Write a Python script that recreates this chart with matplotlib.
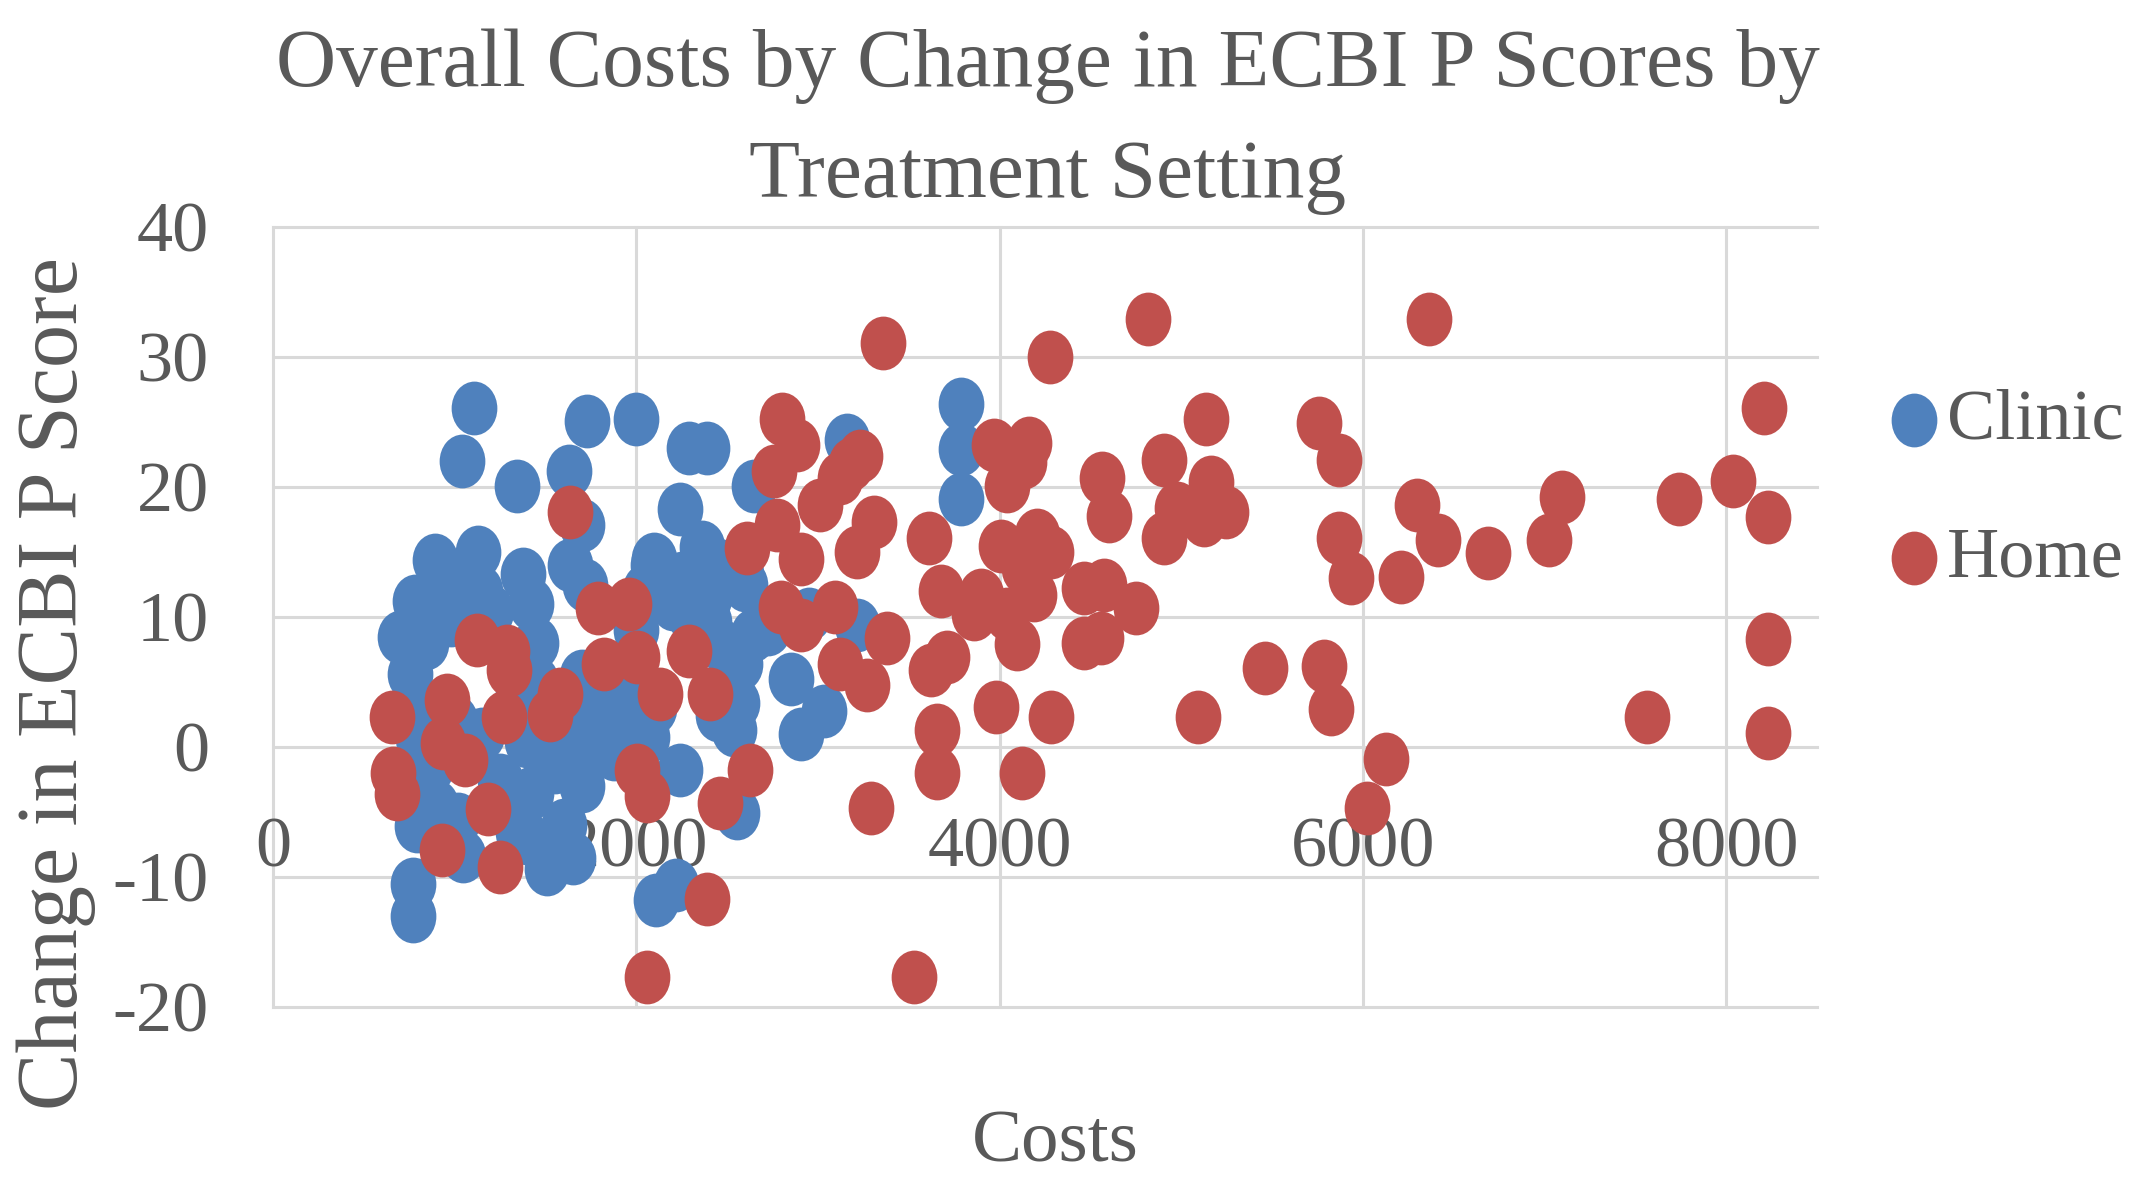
import numpy as np
import matplotlib
matplotlib.use("Agg")
import matplotlib.pyplot as plt
from matplotlib.path import Path

# ---------------- data ----------------
clinic_x = [1104, 1728, 1998, 1039, 1343, 1627, 1701, 1636, 893, 1131, 1379, 1140, 782,
            2094, 2243, 3785, 3785, 3785, 3161, 2290, 2390, 2647, 2363, 2575, 2122, 2046,
            2401, 2643, 2726, 2952, 3216, 2573, 2854, 3032, 2904, 2536, 2552, 2243, 2555,
            2110, 2220, 2059, 773, 773, 1508, 1048, 791, 755, 791, 800,
            840, 980, 1200, 1420, 1450, 1720, 820, 870, 900, 1020, 1350, 1420, 1400, 1350,
            1650, 1700, 1750, 1900, 1880, 1600, 1000, 1150, 1500, 1800, 1300, 1400, 1650,
            1450, 1700, 1000, 900, 2000, 2100, 1950, 2300, 2450, 2450, 2100, 2250, 2450,
            2600, 2200, 2400, 1250, 1550, 700]
clinic_y = [26.1, 25.1, 25.2, 22.0, 20.1, 21.2, 17.1, 14.0, 14.4, 15.0, 13.3, 12.0, 11.2,
            14.0, 18.3, 26.4, 22.9, 19.1, 23.6, 23.0, 23.0, 20.1, 15.4, 13.3, 13.3, 12.1,
            9.6, 8.6, 9.1, 10.2, 9.4, 6.4, 5.2, 2.8, 1.0, 1.3, 3.4, -1.8, -5.1,
            -11.8, -10.6, 0.8, -10.5, -13.0, -9.4, -8.4, -6.1, 5.6, 10.7, 0.7,
            8.0, 9.8, 10.5, 11.0, 8.0, 12.5, 3.0, -1.5, -4.5, -5.5, -6.5, -3.5, 0.5, 4.0,
            0.0, -3.0, 3.0, 2.5, -0.5, -6.0, 2.0, 1.0, 0.5, 0.5, -5.0, -7.0, -8.5,
            5.0, 5.5, 12.5, 12.0, 9.0, 3.0, 4.0, 10.0, 8.0, 2.5, 14.5, 13.0, 14.0,
            12.5, 11.0, 11.5, -2.5, -1.5, 8.5]

home_x = [3357, 4818, 6362, 4276, 8208, 2803, 5139, 5760, 4906, 5870, 4562, 4603, 5163,
          5245, 4979, 4906, 5126, 5870, 5934, 6210, 6296, 6412, 4281, 4463, 4573, 4750,
          4463, 4557, 4281, 4122, 5095, 5460, 5784, 5824, 6127, 6022, 7095, 7027, 6687,
          7738, 8037, 8230, 8230, 7565, 8230,
          2885, 2757, 3234, 3124, 3014, 3180, 3969, 4162, 4041, 4133, 3611, 3308, 3216,
          2775, 2610, 2904, 4006, 4208, 4134, 3675, 3896, 4188, 2794, 3095, 2904, 2289,
          2132, 2408, 3124, 3271, 3381, 3620, 3711, 3978, 4098, 3656, 3656, 2628, 2463,
          3290, 2390, 2059, 3527, 3858, 4041,
          654, 663, 681, 957, 938, 1058, 1122, 1288, 1297, 1269, 1526, 1581, 1186, 929,
          1251, 1790, 1960, 1820, 2004, 2004, 2058, 1636]
home_y = [31.1, 32.9, 32.9, 30.0, 26.1, 25.2, 25.2, 24.9, 22.1, 22.1, 20.7, 17.8, 20.4,
          18.1, 18.4, 16.1, 17.5, 16.1, 13.0, 13.1, 18.6, 15.9, 15.0, 12.2, 12.5, 10.7,
          8.0, 8.4, 2.3, -2.0, 2.3, 6.1, 6.2, 2.9, -0.9, -4.7, 19.2, 15.9, 14.9,
          19.1, 20.5, 17.7, 8.3, 2.3, 1.1,
          23.2, 21.2, 22.4, 20.7, 18.6, 21.8, 23.2, 23.4, 20.1, 21.9, 16.1, 17.3, 15.0,
          17.1, 15.3, 14.5, 15.5, 16.3, 13.8, 12.0, 11.7, 11.7, 10.8, 10.8, 9.4, 7.4,
          4.1, 4.1, 6.4, 4.8, 8.4, 5.9, 6.9, 3.1, 7.9, 1.3, -2.0, -1.8, -4.3,
          -4.7, -11.7, -17.7, -17.7, 10.2, 10.2,
          2.3, -2.0, -3.6, 3.6, 0.3, -1.0, 8.2, 7.4, 5.9, 2.3, 2.5, 4.1, -4.8, -7.9,
          -9.2, 10.7, 11.0, 6.4, 6.9, -1.8, -3.8, 18.1]

series = ["Clinic", "Home"]
x_ticks = [0, 2000, 4000, 6000, 8000]
y_ticks = [-20, -10, 0, 10, 20, 30, 40]
title_lines = ["Overall Costs by Change in ECBI P Scores by", "Treatment Setting"]
x_label = "Costs"
y_label = "Change in ECBI P Score"

# ---------------- style ----------------
W, H = 2149, 1182
DPI = 100
BLUE = "#4F81BD"
RED = "#C0504D"
TXT = "#595959"
GRID = "#D9D9D9"
FONT = ["Liberation Serif", "DejaVu Serif"]

plt.rcParams["font.family"] = FONT

# ellipse marker (taller than wide, as in reference)
circ = Path.unit_circle()
ell = Path(circ.vertices * np.array([0.85, 1.0]), circ.codes)
msize = 1500

fig = plt.figure(figsize=(W / DPI, H / DPI), dpi=DPI)
ax = fig.add_axes([273 / W, 1 - 1007 / H, (1817 - 273) / W, (1007 - 227) / H])

ax.scatter(clinic_x, clinic_y, s=msize, marker=ell, color=BLUE, linewidths=0,
           label=series[0], zorder=3)
ax.scatter(home_x, home_y, s=msize, marker=ell, color=RED, linewidths=0,
           label=series[1], zorder=4)

ax.set_xlim(0, 8500)
ax.set_ylim(-20, 40)
ax.set_xticks(x_ticks)
ax.set_yticks(y_ticks)
ax.set_xticklabels([str(v) for v in x_ticks])
ax.set_yticklabels([str(v) for v in y_ticks])

for s in ax.spines.values():
    s.set_visible(False)
ax.spines["bottom"].set_position(("data", 0))
ax.grid(True, color=GRID, linewidth=2.2, zorder=0)
ax.set_axisbelow(True)
for gl in ax.get_xgridlines() + ax.get_ygridlines():
    gl.set_clip_on(False)

ax.tick_params(axis="both", length=0, labelsize=52, labelcolor=TXT)
ax.tick_params(axis="x", pad=50)
ax.tick_params(axis="y", pad=46)

fig.text(1048 / W, 1 - 86 / H, title_lines[0], ha="center", va="baseline",
         fontsize=60, color=TXT)
fig.text(1048 / W, 1 - 197 / H, title_lines[1], ha="center", va="baseline",
         fontsize=60, color=TXT)

fig.text(1055 / W, 1 - 1144 / H, x_label, ha="center", va="center",
         fontsize=54, color=TXT)
fig.text(56 / W, 1 - 683 / H, y_label, ha="center", va="center", rotation=90,
         fontsize=62, color=TXT)

leg = fig.legend(loc="center left", bbox_to_anchor=(1889 / W, 1 - 490 / H),
                 frameon=False, fontsize=52, scatterpoints=1, borderpad=0,
                 handlelength=0.7, handletextpad=0.1, labelspacing=1.0,
                 borderaxespad=0)
for t in leg.get_texts():
    t.set_color(TXT)

fig.savefig("out.png", dpi=DPI, facecolor="white")
